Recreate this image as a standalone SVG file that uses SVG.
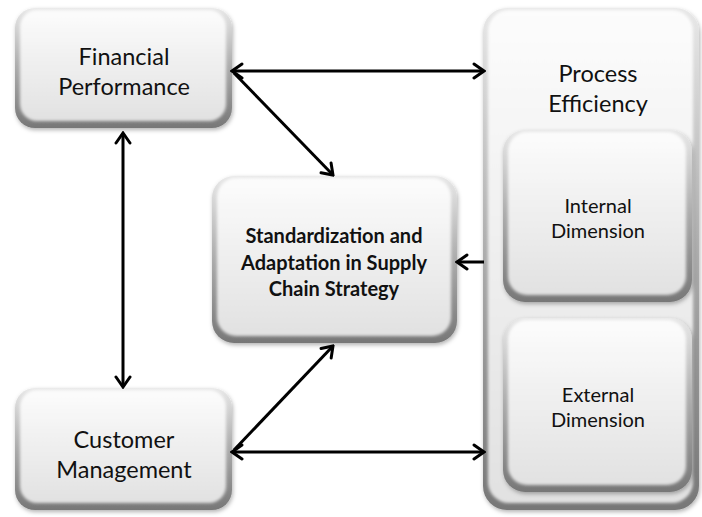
<svg xmlns="http://www.w3.org/2000/svg" width="702" height="517" viewBox="0 0 702 517">
<defs>
<linearGradient id="edge" x1="0" y1="0" x2="0" y2="1">
<stop offset="0" stop-color="#e8e8e8"/>
<stop offset="0.5" stop-color="#ababab"/>
<stop offset="1" stop-color="#777"/>
</linearGradient>
<linearGradient id="face" x1="0" y1="0" x2="0" y2="1">
<stop offset="0" stop-color="#fcfcfc"/>
<stop offset="1" stop-color="#e1e1e1"/>
</linearGradient>
<filter id="soft" x="-10%" y="-10%" width="120%" height="120%">
<feGaussianBlur stdDeviation="1.8"/>
</filter>
<filter id="shadow" x="-10%" y="-10%" width="125%" height="125%">
<feDropShadow dx="1" dy="2" stdDeviation="2" flood-color="#000" flood-opacity="0.3"/>
</filter>
<marker id="ah" viewBox="0 0 14 18" refX="12" refY="9" markerWidth="14" markerHeight="18" orient="auto-start-reverse" markerUnits="userSpaceOnUse">
<path d="M2,2 L12,9 L2,16" fill="none" stroke="#000" stroke-width="3" stroke-linecap="round" stroke-linejoin="miter"/>
</marker>
</defs>
<style>
.edge{fill:url(#edge);filter:url(#shadow)}
.face{fill:url(#face);filter:url(#soft)}
.t{font-family:Lato,"Open Sans",sans-serif;fill:#111;text-anchor:middle}
.big{font-size:23.5px}
.mid{font-size:20px}
.b{font-size:20px;font-weight:bold}
.c{fill:none;stroke:#000;stroke-width:3}
</style>

<g id="financial-performance">
<rect class="edge" x="15" y="8" width="217" height="120" rx="20"/>
<rect class="face" x="20" y="10" width="206" height="111" rx="17"/>
<text class="t big" x="124" y="65">Financial</text>
<text class="t big" x="124" y="95">Performance</text>
</g>

<g id="process-efficiency">
<rect class="edge" x="483" y="8" width="216" height="502" rx="24"/>
<rect class="face" x="488" y="10" width="205" height="493" rx="21"/>
<text class="t big" x="598" y="82">Process</text>
<text class="t big" x="598" y="112">Efficiency</text>
</g>

<g id="internal-dimension">
<rect class="edge" x="503" y="130" width="189" height="172" rx="22"/>
<rect class="face" x="508" y="132" width="178" height="163" rx="19"/>
<text class="t mid" x="598" y="213">Internal</text>
<text class="t mid" x="598" y="238">Dimension</text>
</g>

<g id="external-dimension">
<rect class="edge" x="503" y="318" width="189" height="174" rx="22"/>
<rect class="face" x="508" y="320" width="178" height="165" rx="19"/>
<text class="t mid" x="598" y="402">External</text>
<text class="t mid" x="598" y="427">Dimension</text>
</g>

<g id="standardization">
<rect class="edge" x="212" y="176" width="245" height="167" rx="22"/>
<rect class="face" x="217" y="178" width="234" height="158" rx="19"/>
<text class="t b" x="334" y="243">Standardization and</text>
<text class="t b" x="334" y="270">Adaptation in Supply</text>
<text class="t b" x="334" y="296">Chain Strategy</text>
</g>

<g id="customer-management">
<rect class="edge" x="15" y="388" width="217" height="122" rx="20"/>
<rect class="face" x="20" y="390" width="206" height="113" rx="17"/>
<text class="t big" x="124" y="448">Customer</text>
<text class="t big" x="124" y="478">Management</text>
</g>

<g id="connectors">
<line class="c" x1="232" y1="71" x2="484" y2="71" marker-start="url(#ah)" marker-end="url(#ah)"/>
<line class="c" x1="234" y1="73" x2="333" y2="175" marker-end="url(#ah)"/>
<line class="c" x1="123" y1="133" x2="123" y2="387" marker-start="url(#ah)" marker-end="url(#ah)"/>
<line class="c" x1="484" y1="262" x2="457" y2="262" marker-end="url(#ah)"/>
<line class="c" x1="234" y1="450" x2="333" y2="346" marker-end="url(#ah)"/>
<line class="c" x1="232" y1="452" x2="484" y2="452" marker-start="url(#ah)" marker-end="url(#ah)"/>
</g>
</svg>
